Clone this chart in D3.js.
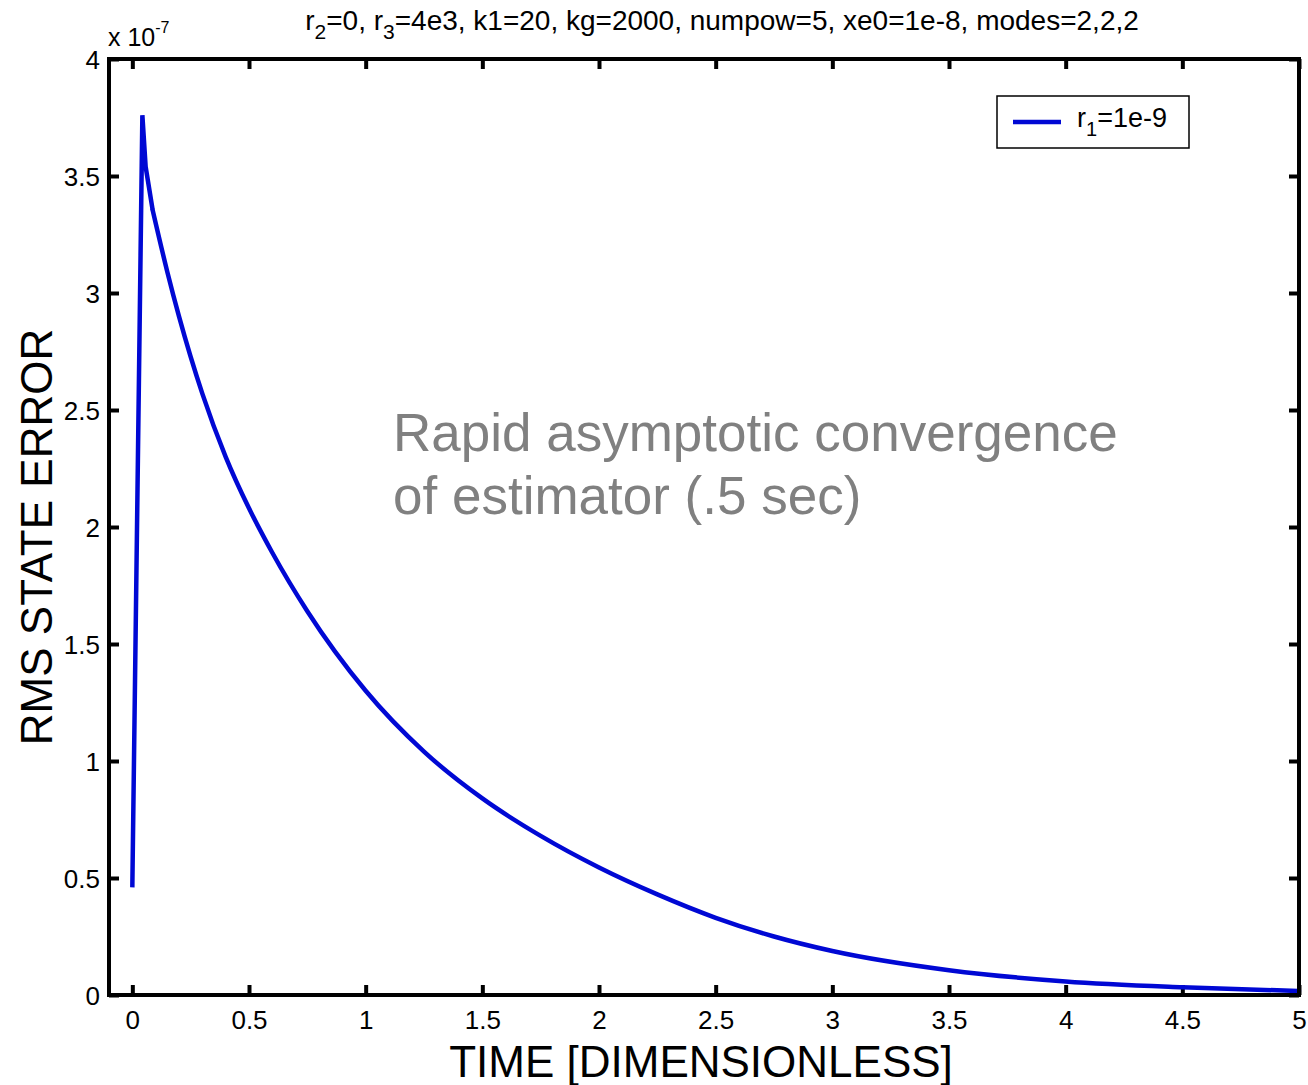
<!DOCTYPE html>
<html>
<head>
<meta charset="utf-8">
<script src="https://cdn.jsdelivr.net/npm/d3@7"></script>
<style>
  html, body { margin: 0; padding: 0; background: #fff; }
  svg { display: block; font-family: "Liberation Sans", Arial, sans-serif; }
  .axis text { fill: #000; }
</style>
</head>
<body>
<svg id="chart" width="1308" height="1085"></svg>
<script>
// time samples and rms error (x 1e-7)
const TIME = [0, 0.043, 0.057, 0.087, 0.15, 0.2, 0.3, 0.4, 0.5, 0.6, 0.75, 1.0, 1.25, 1.5,
              1.75, 2.0, 2.25, 2.5, 2.75, 3.0, 3.5, 4.0, 4.5, 5.0];
const RMS  = [0.46, 3.76, 3.54, 3.355, 3.09, 2.90, 2.57, 2.30, 2.08, 1.89, 1.64, 1.30, 1.04, 0.84,
              0.68, 0.545, 0.43, 0.33, 0.25, 0.188, 0.106, 0.058, 0.033, 0.017];
const X_TICKS = [0, 0.5, 1, 1.5, 2, 2.5, 3, 3.5, 4, 4.5, 5];
const Y_TICKS = [0, 0.5, 1, 1.5, 2, 2.5, 3, 3.5, 4];
const LEGEND_LABEL = ['r', '1', '=1e-9'];
const NOTE_LINES = ['Rapid asymptotic convergence', 'of estimator (.5 sec)'];

const LINE_COLOR = '#0008d4';
const box = { left: 109, right: 1299, top: 59, bottom: 995 };

const svg = d3.select('#chart');
const x = d3.scaleLinear().domain([-0.1, 5]).range([box.left, box.right]);
const y = d3.scaleLinear().domain([0, 4]).range([box.bottom, box.top]);

const data = TIME.map((t, i) => ({ t, v: RMS[i] }));

// ── axes: ticks point inward on all four sides ──────────────────────────────
const tick = 10;
const gB = svg.append('g').attr('class', 'axis')
  .attr('transform', `translate(0,${box.bottom})`)
  .call(d3.axisBottom(x).tickValues(X_TICKS).tickSize(-tick).tickPadding(16).tickFormat(d3.format('')));
const gT = svg.append('g').attr('class', 'axis')
  .attr('transform', `translate(0,${box.top})`)
  .call(d3.axisTop(x).tickValues(X_TICKS).tickSize(-tick).tickFormat(''));
const gL = svg.append('g').attr('class', 'axis')
  .attr('transform', `translate(${box.left},0)`)
  .call(d3.axisLeft(y).tickValues(Y_TICKS).tickSize(-tick).tickPadding(9).tickFormat(d3.format('')));
const gR = svg.append('g').attr('class', 'axis')
  .attr('transform', `translate(${box.right},0)`)
  .call(d3.axisRight(y).tickValues(Y_TICKS).tickSize(-tick).tickFormat(''));

[gB, gT, gL, gR].forEach(g => {
  g.select('.domain').remove();
  g.selectAll('.tick line').attr('stroke', '#000').attr('stroke-width', 4);
  g.selectAll('text').attr('font-size', 26).attr('font-family', '"Liberation Sans", Arial, sans-serif');
});
gB.selectAll('text').attr('dy', '0.71em');
gL.selectAll('text').attr('dy', '0.35em');

// ── data line (straight samples at the start, smooth decay after) ────────
const early = data.slice(0, 4);
const late = data.slice(3);
svg.append('path').datum(early)
  .attr('fill', 'none').attr('stroke', LINE_COLOR).attr('stroke-width', 4.5)
  .attr('stroke-linejoin', 'miter').attr('stroke-linecap', 'butt')
  .attr('d', d3.line().x(d => x(d.t)).y(d => y(d.v)));
svg.append('path').datum(late)
  .attr('fill', 'none').attr('stroke', LINE_COLOR).attr('stroke-width', 4.5)
  .attr('stroke-linejoin', 'round').attr('stroke-linecap', 'round')
  .attr('d', d3.line().x(d => x(d.t)).y(d => y(d.v)).curve(d3.curveMonotoneX));

// plot box
svg.append('rect')
  .attr('x', box.left).attr('y', box.top)
  .attr('width', box.right - box.left).attr('height', box.bottom - box.top)
  .attr('fill', 'none').attr('stroke', '#000').attr('stroke-width', 4);

// ── exponent label ───────────────────────────────────────────────────────
const expo = svg.append('text').attr('x', 108).attr('y', 46).attr('font-size', 25);
expo.append('tspan').text('x 10');
expo.append('tspan').attr('font-size', 16).attr('dy', -13).text('-7');

// ── title ────────────────────────────────────────────────────────────────
const title = svg.append('text').attr('x', 722).attr('y', 30)
  .attr('text-anchor', 'middle').attr('font-size', 28);
const titleParts = [
  ['r', 0], ['2', 1], ['=0, r', 0], ['3', 1],
  ['=4e3, k1=20, kg=2000, numpow=5, xe0=1e-8, modes=2,2,2', 0]
];
let shifted = 0;
titleParts.forEach(([s, sub]) => {
  const dy = sub ? 9 - shifted : -shifted;
  shifted += dy;
  title.append('tspan').attr('dy', dy).attr('font-size', sub ? 21 : 28).text(s);
});

// ── axis titles ──────────────────────────────────────────────────────────
svg.append('text').attr('x', 701).attr('y', 1077)
  .attr('text-anchor', 'middle').attr('font-size', 44)
  .text('TIME [DIMENSIONLESS]');
svg.append('text')
  .attr('transform', `translate(52,${537}) rotate(-90)`)
  .attr('text-anchor', 'middle').attr('font-size', 44)
  .text('RMS STATE ERROR');

// ── legend ───────────────────────────────────────────────────────────────
const lg = svg.append('g').attr('transform', 'translate(997,96)');
lg.append('rect').attr('width', 192).attr('height', 52)
  .attr('fill', '#fff').attr('stroke', '#000').attr('stroke-width', 1.5);
lg.append('line').attr('x1', 16).attr('x2', 64).attr('y1', 26).attr('y2', 26)
  .attr('stroke', LINE_COLOR).attr('stroke-width', 4.5);
const lt = lg.append('text').attr('x', 80).attr('y', 31).attr('font-size', 27);
lt.append('tspan').text(LEGEND_LABEL[0]);
lt.append('tspan').attr('dy', 9).attr('font-size', 20).text(LEGEND_LABEL[1]);
lt.append('tspan').attr('dy', -9).text(LEGEND_LABEL[2]);

// ── annotation ───────────────────────────────────────────────────────────
const note = svg.append('text').attr('x', 393).attr('y', 451)
  .attr('font-size', 53).attr('fill', '#808080');
NOTE_LINES.forEach((s, i) => {
  note.append('tspan').attr('x', 393).attr('dy', i ? 63 : 0).text(s);
});
</script>
</body>
</html>
